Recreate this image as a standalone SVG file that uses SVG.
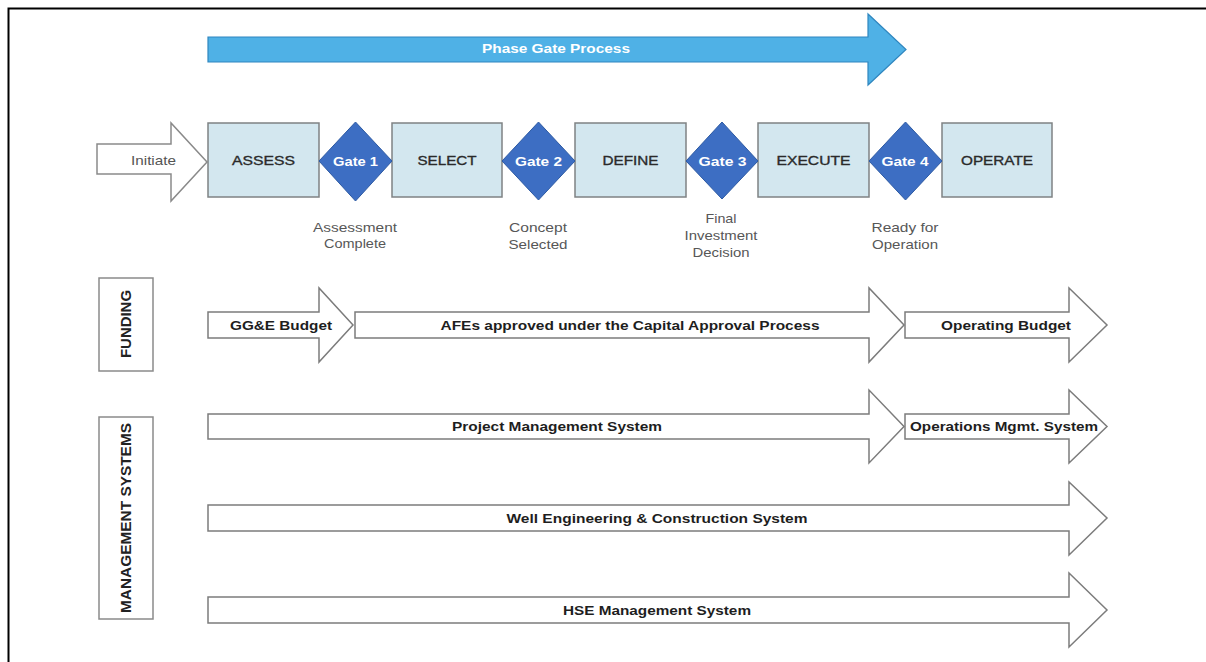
<svg xmlns="http://www.w3.org/2000/svg" width="1206" height="662" viewBox="0 0 1206 662">
  <style>
    text { font-family: "Liberation Sans", Arial, sans-serif; }
    .frame { fill: none; stroke: #000; stroke-width: 2; }
    .phase { fill: #4fb1e6; stroke: #2f86bf; stroke-width: 1.2; }
    .phase-label { font-size: 13px; font-weight: bold; fill: #ffffff; text-anchor: middle; }
    .stage { fill: #d3e7ef; stroke: #7f8284; stroke-width: 1.5; }
    .stage-label { font-size: 13.5px; fill: #2a2a2a; text-anchor: middle; stroke: #2a2a2a; stroke-width: 0.35; }
    .gate { fill: #3d6ec3; stroke: #2d5aa3; stroke-width: 1; }
    .gate-label { font-size: 13px; font-weight: bold; fill: #ffffff; text-anchor: middle; }
    .note { font-size: 13px; fill: #575757; text-anchor: middle; }
    .bar { fill: #ffffff; stroke: #7c7c7c; stroke-width: 1.5; stroke-linejoin: miter; }
    .bar-label { font-size: 13px; font-weight: bold; fill: #1e1e1e; text-anchor: middle; }
    .lane { fill: #ffffff; stroke: #8a8a8a; stroke-width: 1.5; }
    .lane-label { font-size: 14px; font-weight: bold; fill: #222; text-anchor: middle; }
    .init { fill: #ffffff; stroke: #8a8a8a; stroke-width: 1.5; }
    .init-label { font-size: 13px; fill: #555; text-anchor: middle; }
  </style>

  <!-- outer frame (runs off the right and bottom edges) -->
  <rect class="frame" x="8.5" y="8.5" width="1210" height="670"/>

  <!-- top banner arrow -->
  <g id="phase-gate-process">
    <path class="phase" d="M208,37 H868 V14 L906,49.5 L868,85 V62 H208 Z"/>
    <text class="phase-label" x="556" y="53" textLength="148" lengthAdjust="spacingAndGlyphs">Phase Gate Process</text>
  </g>

  <!-- entry arrow -->
  <g id="initiate">
    <path class="init" d="M97,144 H171 V123 L207,162 L171,201 V174 H97 Z"/>
    <text class="init-label" x="153.5" y="165" textLength="45" lengthAdjust="spacingAndGlyphs">Initiate</text>
  </g>

  <!-- stages -->
  <g id="assess">
    <rect class="stage" x="208" y="123" width="111" height="74"/>
    <text class="stage-label" x="263.5" y="165" textLength="63" lengthAdjust="spacingAndGlyphs">ASSESS</text>
  </g>
  <g id="select">
    <rect class="stage" x="392" y="123" width="110" height="74"/>
    <text class="stage-label" x="447" y="165" textLength="59" lengthAdjust="spacingAndGlyphs">SELECT</text>
  </g>
  <g id="define">
    <rect class="stage" x="575" y="123" width="111" height="74"/>
    <text class="stage-label" x="630.5" y="165" textLength="56" lengthAdjust="spacingAndGlyphs">DEFINE</text>
  </g>
  <g id="execute">
    <rect class="stage" x="758" y="123" width="111" height="74"/>
    <text class="stage-label" x="813.5" y="165" textLength="74" lengthAdjust="spacingAndGlyphs">EXECUTE</text>
  </g>
  <g id="operate">
    <rect class="stage" x="942" y="123" width="110" height="74"/>
    <text class="stage-label" x="997" y="165" textLength="72" lengthAdjust="spacingAndGlyphs">OPERATE</text>
  </g>

  <!-- gates -->
  <g id="gate-1">
    <polygon class="gate" points="355.5,122 392,161 355.5,201 319,161"/>
    <text class="gate-label" x="355.5" y="166" textLength="45" lengthAdjust="spacingAndGlyphs">Gate 1</text>
    <text class="note" x="355" y="232" textLength="84" lengthAdjust="spacingAndGlyphs">Assessment</text>
    <text class="note" x="355" y="248" textLength="62" lengthAdjust="spacingAndGlyphs">Complete</text>
  </g>
  <g id="gate-2">
    <polygon class="gate" points="538.5,122 575,161 538.5,200 502,161"/>
    <text class="gate-label" x="538.5" y="166" textLength="47" lengthAdjust="spacingAndGlyphs">Gate 2</text>
    <text class="note" x="538" y="232" textLength="58" lengthAdjust="spacingAndGlyphs">Concept</text>
    <text class="note" x="538" y="249" textLength="59" lengthAdjust="spacingAndGlyphs">Selected</text>
  </g>
  <g id="gate-3">
    <polygon class="gate" points="722,122 758,161 722,199 686,161"/>
    <text class="gate-label" x="722.5" y="166" textLength="48" lengthAdjust="spacingAndGlyphs">Gate 3</text>
    <text class="note" x="721" y="223" textLength="31" lengthAdjust="spacingAndGlyphs">Final</text>
    <text class="note" x="721" y="240" textLength="73" lengthAdjust="spacingAndGlyphs">Investment</text>
    <text class="note" x="721" y="257" textLength="57" lengthAdjust="spacingAndGlyphs">Decision</text>
  </g>
  <g id="gate-4">
    <polygon class="gate" points="905.5,122 942,161 905.5,200 869,161"/>
    <text class="gate-label" x="905" y="166" textLength="47" lengthAdjust="spacingAndGlyphs">Gate 4</text>
    <text class="note" x="905" y="232" textLength="67" lengthAdjust="spacingAndGlyphs">Ready for</text>
    <text class="note" x="905" y="249" textLength="66" lengthAdjust="spacingAndGlyphs">Operation</text>
  </g>

  <!-- swimlane headers -->
  <g id="lane-funding">
    <rect class="lane" x="99" y="278" width="54" height="93"/>
    <text class="lane-label" transform="translate(130.5,324) rotate(-90)" x="0" y="0" textLength="68" lengthAdjust="spacingAndGlyphs">FUNDING</text>
  </g>
  <g id="lane-management">
    <rect class="lane" x="99" y="417" width="54" height="202"/>
    <text class="lane-label" transform="translate(130.5,518) rotate(-90)" x="0" y="0" textLength="190" lengthAdjust="spacingAndGlyphs">MANAGEMENT SYSTEMS</text>
  </g>

  <!-- funding arrows -->
  <g id="gge-budget">
    <path class="bar" d="M208,312 H319 V288 L353,325 L319,362 V338 H208 Z"/>
    <text class="bar-label" x="281" y="330" textLength="102" lengthAdjust="spacingAndGlyphs">GG&amp;E Budget</text>
  </g>
  <g id="afe-capital">
    <path class="bar" d="M355,312 H869 V288 L904,325 L869,362 V338 H355 Z"/>
    <text class="bar-label" x="630" y="330" textLength="379" lengthAdjust="spacingAndGlyphs">AFEs approved under the Capital Approval Process</text>
  </g>
  <g id="operating-budget">
    <path class="bar" d="M905,312 H1069 V288 L1107,325 L1069,362 V338 H905 Z"/>
    <text class="bar-label" x="1006" y="330" textLength="130" lengthAdjust="spacingAndGlyphs">Operating Budget</text>
  </g>

  <!-- management system arrows -->
  <g id="project-management">
    <path class="bar" d="M208,414 H869 V390 L904,426.5 L869,463 V439 H208 Z"/>
    <text class="bar-label" x="557" y="431" textLength="210" lengthAdjust="spacingAndGlyphs">Project Management System</text>
  </g>
  <g id="operations-management">
    <path class="bar" d="M905,414 H1069 V390 L1107,426.5 L1069,463 V439 H905 Z"/>
    <text class="bar-label" x="1004" y="431" textLength="188" lengthAdjust="spacingAndGlyphs">Operations Mgmt. System</text>
  </g>
  <g id="well-engineering">
    <path class="bar" d="M208,505 H1069 V482 L1107,518 L1069,555 V531 H208 Z"/>
    <text class="bar-label" x="657" y="523" textLength="301" lengthAdjust="spacingAndGlyphs">Well Engineering &amp; Construction System</text>
  </g>
  <g id="hse-management">
    <path class="bar" d="M208,597 H1069 V573 L1107,610 L1069,647 V623 H208 Z"/>
    <text class="bar-label" x="657" y="615" textLength="188" lengthAdjust="spacingAndGlyphs">HSE Management System</text>
  </g>
</svg>
